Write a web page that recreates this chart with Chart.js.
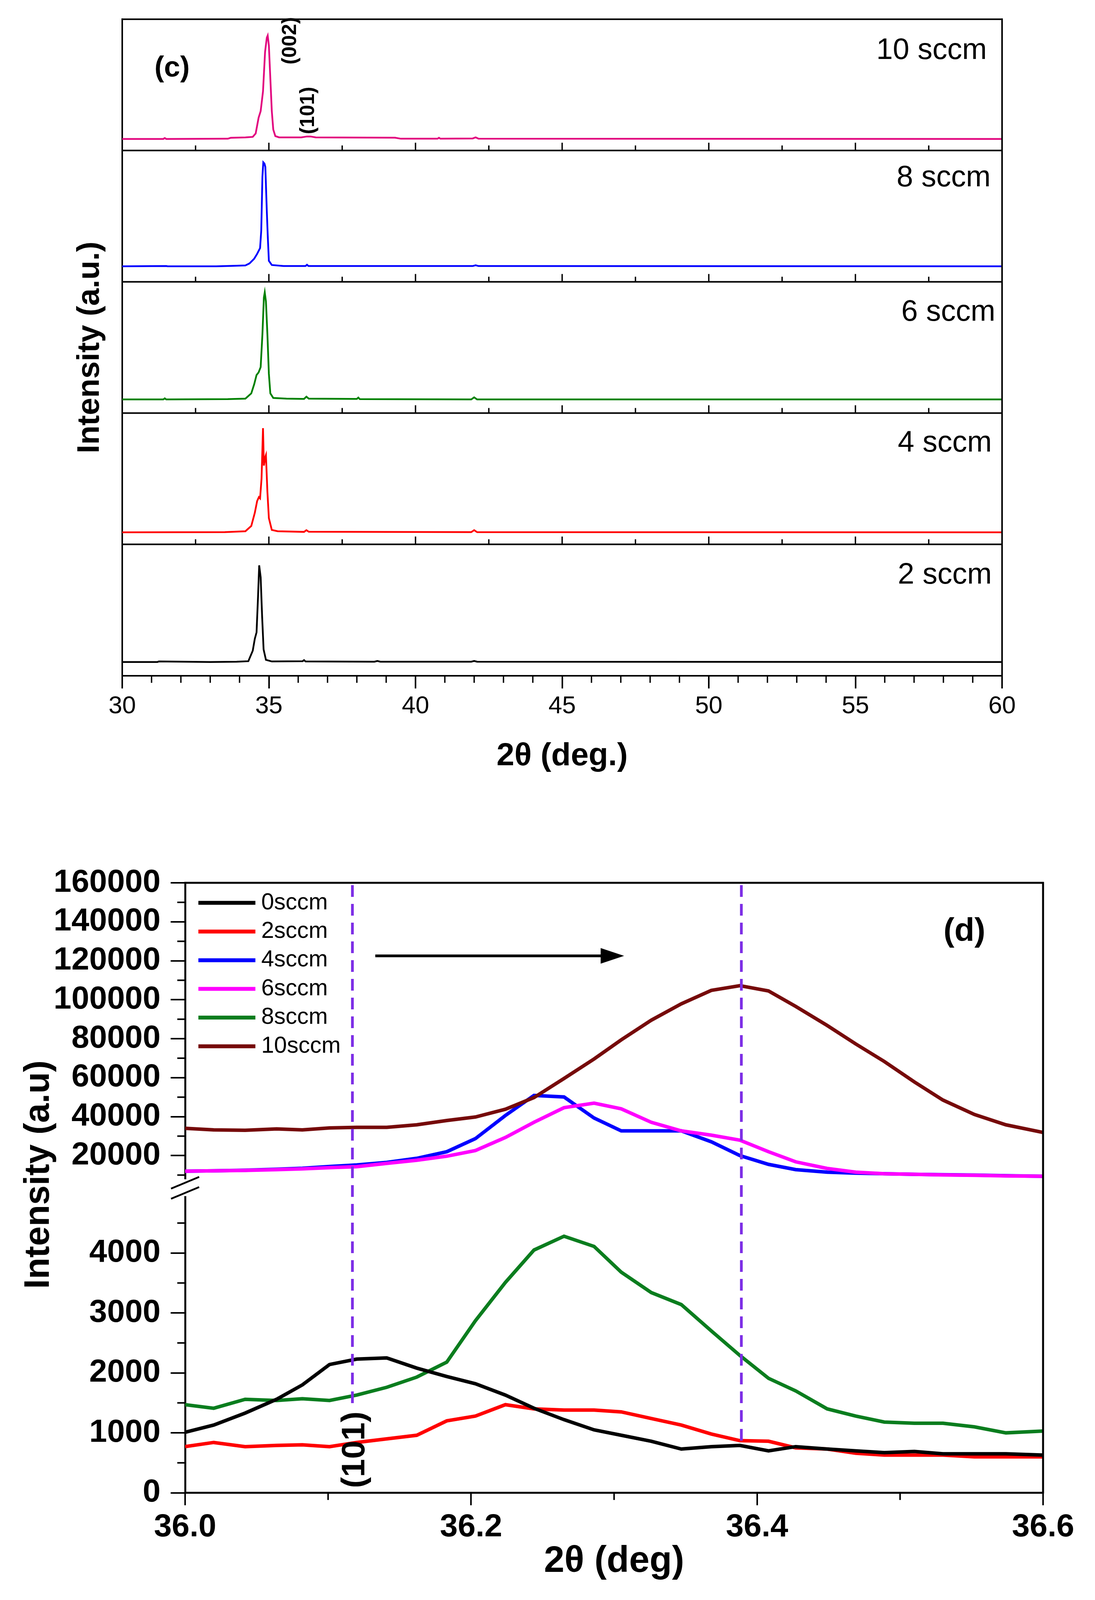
<!DOCTYPE html>
<html><head><meta charset="utf-8">
<script src="https://cdn.jsdelivr.net/npm/chart.js@4.4.1/dist/chart.umd.min.js"></script>
<style>
html,body{margin:0;padding:0;background:#fff;overflow:hidden;}
#wrap{position:relative;width:2804px;background:#fff;overflow:hidden;}
canvas{position:absolute;left:0;}
</style></head><body>
<div id="wrap">
<canvas id="cC"></canvas>
<canvas id="cD"></canvas>
</div>
<script>
// ================= Panel (c) data =================
const cLabels = ['10 sccm', '8 sccm', '6 sccm', '4 sccm', '2 sccm'];
const cColors = ['#e2087f', '#0000ff', '#008000', '#ff0000', '#000000'];
const cXTicks = [30, 35, 40, 45, 50, 55, 60];
const cXLabels = ['30', '35', '40', '45', '50', '55', '60'];
const cMinorTicks = [31,32,33,34,36,37,38,39,41,42,43,44,46,47,48,49,51,52,53,54,56,57,58,59];
const cInnerTicks = [32.5,35,37.5,40,42.5,45,47.5,50,52.5,55,57.5];

const c10x = [30, 31.4, 31.45, 31.5, 33.6, 33.7, 34.2, 34.45, 34.55, 34.65, 34.72, 34.8, 34.87, 34.93, 34.96, 35.0, 35.05, 35.1, 35.15, 35.22, 35.35, 36.1, 36.3, 36.42, 36.6, 39.3, 39.5, 40.75, 40.8, 40.85, 41.95, 42.05, 42.15, 60];
const c10y = [0.088, 0.088, 0.095, 0.088, 0.09, 0.097, 0.1, 0.104, 0.13, 0.25, 0.30, 0.45, 0.75, 0.86, 0.876, 0.80, 0.55, 0.30, 0.16, 0.11, 0.1, 0.1, 0.107, 0.107, 0.1, 0.098, 0.09, 0.09, 0.097, 0.09, 0.092, 0.1, 0.09, 0.088];

const c8x = [30, 31.5, 31.55, 33.2, 33.8, 34.2, 34.34, 34.5, 34.6, 34.7, 34.74, 34.78, 34.81, 34.85, 34.88, 34.93, 34.96, 35.0, 35.1, 35.5, 36.25, 36.3, 36.35, 40.8, 41.95, 42.05, 42.15, 60];
const c8y = [0.118, 0.12, 0.118, 0.118, 0.122, 0.125, 0.14, 0.176, 0.213, 0.257, 0.39, 0.80, 0.91, 0.90, 0.875, 0.537, 0.36, 0.16, 0.128, 0.12, 0.12, 0.13, 0.12, 0.12, 0.12, 0.126, 0.12, 0.118];

const c6x = [30, 31.4, 31.45, 31.5, 33.6, 34.2, 34.4, 34.5, 34.58, 34.65, 34.72, 34.78, 34.83, 34.86, 34.9, 34.95, 35.0, 35.05, 35.15, 35.6, 36.2, 36.28, 36.36, 38.0, 38.05, 38.1, 41.9, 42.0, 42.1, 60];
const c6y = [0.104, 0.104, 0.112, 0.104, 0.106, 0.11, 0.15, 0.22, 0.29, 0.31, 0.35, 0.6, 0.88, 0.92, 0.85, 0.6, 0.3, 0.15, 0.115, 0.11, 0.108, 0.125, 0.11, 0.108, 0.118, 0.106, 0.104, 0.12, 0.104, 0.104];

const c4x = [30, 33.5, 34.2, 34.4, 34.52, 34.6, 34.66, 34.7, 34.75, 34.8, 34.83, 34.87, 34.9, 34.95, 35.0, 35.1, 35.3, 36.2, 36.28, 36.36, 41.9, 42.0, 42.1, 60];
const c4y = [0.092, 0.093, 0.1, 0.14, 0.24, 0.33, 0.36, 0.35, 0.5, 0.885, 0.6, 0.66, 0.68, 0.4, 0.2, 0.11, 0.1, 0.095, 0.108, 0.096, 0.093, 0.108, 0.093, 0.092];

const c2x = [30, 31.2, 31.25, 33.0, 33.9, 34.3, 34.45, 34.52, 34.58, 34.63, 34.67, 34.72, 34.77, 34.82, 34.9, 35.1, 36.15, 36.2, 36.25, 38.6, 38.7, 38.8, 41.9, 42.0, 42.1, 60];
const c2y = [0.104, 0.104, 0.108, 0.104, 0.106, 0.11, 0.19, 0.28, 0.33, 0.6, 0.84, 0.75, 0.45, 0.2, 0.12, 0.108, 0.11, 0.118, 0.108, 0.106, 0.112, 0.106, 0.106, 0.112, 0.106, 0.104];

// ================= Panel (d) data =================
const dLabels = ['0sccm', '2sccm', '4sccm', '6sccm', '8sccm', '10sccm'];
const dColors = ['#000000', '#ff0000', '#0000ff', '#ff00ff', '#0a7d1e', '#760a0a'];
const dTheta = [36.000, 36.020, 36.042, 36.064, 36.082, 36.101, 36.120, 36.141, 36.162, 36.183, 36.203, 36.224, 36.244, 36.265, 36.286, 36.305, 36.326, 36.347, 36.368, 36.388, 36.408, 36.427, 36.449, 36.469, 36.489, 36.510, 36.530, 36.552, 36.574, 36.600];
const d0 = [1010, 1130, 1330, 1560, 1800, 2140, 2230, 2250, 2080, 1940, 1820, 1630, 1410, 1220, 1050, 960, 860, 730, 770, 790, 700, 770, 730, 700, 670, 690, 650, 650, 650, 630];
const d2 = [770, 840, 770, 790, 800, 770, 840, 900, 960, 1200, 1280, 1470, 1400, 1380, 1380, 1350, 1240, 1130, 980, 870, 860, 750, 730, 660, 630, 630, 630, 600, 600, 600];
const d4 = [12000, 12200, 12500, 13000, 13500, 14400, 15200, 16500, 18600, 22000, 28700, 40600, 50900, 50100, 39300, 32700, 32700, 32700, 27100, 20000, 15500, 12800, 11500, 11000, 10700, 10400, 10200, 10000, 9700, 9400];
const d6 = [12000, 12200, 12400, 12800, 13200, 13800, 14300, 16000, 17600, 19700, 22600, 29300, 37100, 44600, 46900, 44000, 37100, 32700, 30500, 27900, 22000, 16800, 13400, 11500, 10700, 10400, 10100, 9900, 9600, 9400];
const d8 = [1470, 1410, 1560, 1540, 1570, 1540, 1630, 1760, 1930, 2180, 2870, 3510, 4050, 4280, 4110, 3680, 3340, 3140, 2700, 2290, 1910, 1700, 1400, 1280, 1180, 1160, 1160, 1100, 1000, 1030];
const d10 = [34000, 33200, 33000, 33700, 33200, 34200, 34500, 34500, 35800, 38000, 39800, 43800, 49800, 59600, 69600, 79400, 89500, 97900, 104800, 107200, 104500, 96600, 86800, 77300, 68300, 57800, 48500, 41100, 35800, 31900];
const dAxisOf = ['yLo', 'yLo', 'yHi', 'yHi', 'yLo', 'yHi'];
const dXTicks = [36.0, 36.2, 36.4, 36.6];
const dXLabels = ['36.0', '36.2', '36.4', '36.6'];
const dXMinor = [36.1, 36.3, 36.5];
const dHiTicks = [20000, 40000, 60000, 80000, 100000, 120000, 140000, 160000];
const dHiLabels = ['20000', '40000', '60000', '80000', '100000', '120000', '140000', '160000'];
const dHiMinor = [10000, 30000, 50000, 70000, 90000, 110000, 130000, 150000];
const dLoTicks = [0, 1000, 2000, 3000, 4000];
const dLoLabels = ['0', '1000', '2000', '3000', '4000'];
const dLoMinor = [500, 1500, 2500, 3500, 4500];
const dRefX = [36.117, 36.389];     // (101) peak reference lines
const dRefEnd = [1420, 850];        // lower end of each reference line (lower-axis value)

// ================= page fit (figure designed on a 2804 x 4239 sheet) =================
const SHEET_H = 4239;
const VH = window.innerHeight > 100 ? window.innerHeight : SHEET_H;
const K = Math.min(1, VH / SHEET_H);
const Y = v => v * K;
const wrap = document.getElementById('wrap');
wrap.style.height = Math.round(SHEET_H * K) + 'px';
const cvC = document.getElementById('cC'), cvD = document.getElementById('cD');
const HC = Math.round(Y(2150));
const TOPD = Math.round(Y(2200));
const HD = Math.round(Y(SHEET_H)) - TOPD;
cvC.width = 2804; cvC.height = HC; cvC.style.top = '0px';
cvD.width = 2804; cvD.height = HD; cvD.style.top = TOPD + 'px';

// ================= helpers =================
function seg(ctx, x1, y1, x2, y2, w, color, dash) {
  ctx.save(); ctx.beginPath(); ctx.lineWidth = w; ctx.strokeStyle = color || '#000';
  ctx.lineCap = 'butt'; if (dash) ctx.setLineDash(dash);
  ctx.moveTo(x1, y1); ctx.lineTo(x2, y2); ctx.stroke(); ctx.restore();
}
function txt(ctx, s, x, y, font, align, rot) {
  ctx.save(); ctx.translate(x, y); if (rot) ctx.rotate(rot);
  ctx.font = font; ctx.fillStyle = '#000'; ctx.textAlign = align || 'center'; ctx.textBaseline = 'middle';
  ctx.fillText(s, 0, 0); ctx.restore();
}
const LIB = '"Liberation Sans", Arial, sans-serif';

// ================= Panel (c) chart =================
const cIds = ['y10', 'y8', 'y6', 'y4', 'y2'];
const cSeries = [[c10x, c10y], [c8x, c8y], [c6x, c6y], [c4x, c4y], [c2x, c2y]];
const C_TOP = 51, C_BOTTOM = 1790;
const cTickFontSize = 63, cTitleSize = 82;

const cDecor = {
  id: 'cDecor',
  afterDraw(chart) {
    const ctx = chart.ctx, a = chart.chartArea, x = chart.scales.x;
    seg(ctx, a.left - 2, a.top, a.right + 2, a.top, 4);
    seg(ctx, a.right, a.top - 2, a.right, a.bottom + 2, 4);
    ['y10', 'y8', 'y6', 'y4'].forEach(id => {
      const yb = chart.scales[id].bottom;
      seg(ctx, a.left, yb, a.right, yb, 4);
      cInnerTicks.forEach(v => {
        const px = x.getPixelForValue(v);
        seg(ctx, px, yb, px, yb - (v % 5 === 0 ? 20 : 13), 3.5);
      });
    });
    cMinorTicks.forEach(v => {
      const px = x.getPixelForValue(v);
      seg(ctx, px, a.bottom, px, a.bottom + Y(19), 3.5);
    });
    const labY = [0.76, 0.79, 0.767, 0.77, 0.764];
    const labX = [59.48, 59.61, 59.77, 59.65, 59.65];
    cIds.forEach((id, i) => {
      txt(ctx, cLabels[i], x.getPixelForValue(labX[i]), chart.scales[id].getPixelForValue(labY[i]), '76px ' + LIB, 'right');
    });
    const t = chart.scales.y10;
    txt(ctx, '(c)', x.getPixelForValue(31.7), t.getPixelForValue(0.625), 'bold 74px ' + LIB, 'center');
    txt(ctx, '(002)', x.getPixelForValue(35.73), t.getPixelForValue(0.836), 'bold 52px ' + LIB, 'center', -Math.PI / 2);
    txt(ctx, '(101)', x.getPixelForValue(36.35), t.getPixelForValue(0.305), 'bold 52px ' + LIB, 'center', -Math.PI / 2);
  }
};

const cXTickLen = Y(34);
const scalesC = {
  x: {
    type: 'linear', position: 'bottom', min: 30, max: 60,
    afterBuildTicks: s => { s.ticks = cXTicks.map(v => ({ value: v })); },
    afterFit: s => { s.height = HC - Y(C_BOTTOM); },
    grid: { drawOnChartArea: false, tickLength: cXTickLen, lineWidth: 4, color: '#000' },
    border: { display: true, color: '#000', width: 4 },
    ticks: { font: { family: LIB, size: cTickFontSize }, color: '#000', maxRotation: 0, autoSkip: false,
             padding: Math.max(0, Y(1872) - Y(C_BOTTOM) - cXTickLen - cTickFontSize * 0.6),
             callback: (v, i) => cXLabels[i] },
    title: { display: true, text: '2θ (deg.)', color: '#000', font: { family: LIB, size: cTitleSize, weight: 'bold' },
             padding: { top: 0, bottom: Math.max(0, HC - Y(2004) - cTitleSize * 0.6) } }
  }
};
['y2', 'y4', 'y6', 'y8', 'y10'].forEach(id => {
  scalesC[id] = {
    type: 'linear', position: 'left', stack: 'c', stackWeight: 1, min: 0, max: 1,
    afterFit: s => { s.width = 313; },
    grid: { display: false },
    border: { display: true, color: '#000', width: 4 },
    ticks: { display: false },
    title: id === 'y6'
      ? { display: true, text: 'Intensity (a.u.)', color: '#000', font: { family: LIB, size: 80, weight: 'bold' }, padding: { top: 183, bottom: 0 } }
      : { display: false }
  };
});

new Chart(cvC, {
  type: 'line',
  data: {
    datasets: cSeries.map((s, i) => ({
      label: cLabels[i],
      data: s[0].map((xv, j) => ({ x: xv, y: s[1][j] })),
      borderColor: cColors[i], backgroundColor: cColors[i],
      borderWidth: 4.5, pointRadius: 0, tension: 0, fill: false, yAxisID: cIds[i]
    }))
  },
  options: {
    responsive: false, animation: false, devicePixelRatio: 1,
    layout: { padding: { left: 0, top: Y(C_TOP), right: 238, bottom: 0 } },
    plugins: { legend: { display: false }, tooltip: { enabled: false } },
    scales: scalesC
  },
  plugins: [cDecor]
});

// ================= Panel (d) chart =================
const dSeries = [d0, d2, d4, d6, d8, d10];
const D_TOP = 2339, D_BOTTOM = 3955;
const dTickFontSize = 82, dTitleSize = 94;

const dDecor = {
  id: 'dDecor',
  afterDatasetsDraw(chart) {
    const ctx = chart.ctx, a = chart.chartArea, x = chart.scales.x, lo = chart.scales.yLo;
    dRefX.forEach((v, i) => {
      const px = x.getPixelForValue(v);
      seg(ctx, px, a.top + 6, px, lo.getPixelForValue(dRefEnd[i]), 7, '#7d2ee6', [30, 18]);
    });
  },
  afterDraw(chart) {
    const ctx = chart.ctx, a = chart.chartArea, x = chart.scales.x, hi = chart.scales.yHi, lo = chart.scales.yLo;
    // frame (top, right)
    seg(ctx, a.left - 2, a.top, a.right + 2, a.top, 5);
    seg(ctx, a.right, a.top - 2, a.right, a.bottom + 2, 5);
    // minor ticks
    dHiMinor.forEach(v => { const py = hi.getPixelForValue(v); seg(ctx, a.left, py, a.left - 20, py, 4); });
    dLoMinor.forEach(v => { const py = lo.getPixelForValue(v); seg(ctx, a.left, py, a.left - 20, py, 4); });
    dXMinor.forEach(v => { const px = x.getPixelForValue(v); seg(ctx, px, a.bottom, px, a.bottom + Y(19), 4); });
    // axis break marks
    const gc = (hi.bottom + lo.top) / 2;
    [-13, 13].forEach(o => seg(ctx, a.left - 36, gc + o + 15, a.left + 36, gc + o - 15, 4.5));
    // y-axis title (spans both segments)
    txt(ctx, 'Intensity (a.u)', 100, Y(3112) - TOPD, 'bold 90px ' + LIB, 'center', -Math.PI / 2);
    // arrow
    const ay = hi.getPixelForValue(122500), ax1 = x.getPixelForValue(36.133), ax2 = x.getPixelForValue(36.307);
    seg(ctx, ax1, ay, ax2 - 40, ay, 7);
    ctx.save(); ctx.beginPath(); ctx.fillStyle = '#000';
    ctx.moveTo(ax2, ay); ctx.lineTo(ax2 - 60, ay - 20); ctx.lineTo(ax2 - 60, ay + 20); ctx.closePath(); ctx.fill(); ctx.restore();
    // texts
    txt(ctx, '(d)', x.getPixelForValue(36.545), hi.getPixelForValue(134700), 'bold 84px ' + LIB, 'center');
    txt(ctx, '(101)', x.getPixelForValue(36.119), lo.getPixelForValue(718), 'bold 84px ' + LIB, 'center', -Math.PI / 2);
    // legend
    chart.data.datasets.forEach((ds, i) => {
      const yy = a.top + Y(53 + 76 * i);
      seg(ctx, a.left + 34, yy, a.left + 180, yy, 10, ds.borderColor);
      txt(ctx, ds.label, a.left + 195, yy, '59px ' + LIB, 'left');
    });
  }
};

const yCommonD = {
  type: 'linear', position: 'left', stack: 'd',
  afterFit: s => { s.width = 474; },
  grid: { drawOnChartArea: false, tickLength: 37, lineWidth: 4, color: '#000' },
  border: { display: true, color: '#000', width: 5 },
  title: { display: false }
};
const dTickFont = { family: LIB, size: dTickFontSize, weight: 'bold' };
const dXTickLen = Y(33);

new Chart(cvD, {
  type: 'line',
  data: {
    datasets: dSeries.map((s, i) => ({
      label: dLabels[i],
      data: dTheta.map((xv, j) => ({ x: xv, y: s[j] })),
      borderColor: dColors[i], backgroundColor: dColors[i],
      borderWidth: 9, pointRadius: 0, tension: 0, fill: false,
      yAxisID: dAxisOf[i], order: i === 2 ? 2 : 1
    }))
  },
  options: {
    responsive: false, animation: false, devicePixelRatio: 1,
    layout: { padding: { left: 0, top: Y(D_TOP) - TOPD, right: 133, bottom: 0 } },
    plugins: { legend: { display: false }, tooltip: { enabled: false } },
    scales: {
      x: {
        type: 'linear', position: 'bottom', min: 36, max: 36.6,
        afterBuildTicks: s => { s.ticks = dXTicks.map(v => ({ value: v })); },
        afterFit: s => { s.height = HD - (Y(D_BOTTOM) - TOPD); },
        grid: { drawOnChartArea: false, tickLength: dXTickLen, lineWidth: 4, color: '#000' },
        border: { display: true, color: '#000', width: 5 },
        ticks: { font: dTickFont, color: '#000', maxRotation: 0, autoSkip: false,
                 padding: Math.max(0, Y(4047) - Y(D_BOTTOM) - dXTickLen - dTickFontSize * 0.6),
                 callback: (v, i) => dXLabels[i] },
        title: { display: true, text: '2θ (deg)', color: '#000', font: { family: LIB, size: dTitleSize, weight: 'bold' },
                 padding: { top: 0, bottom: Math.max(0, HD - (Y(4138) - TOPD) - dTitleSize * 0.6) } }
      },
      yLo: Object.assign({}, yCommonD, {
        stackWeight: 783, min: 0, max: 4930,
        afterBuildTicks: s => { s.ticks = dLoTicks.map(v => ({ value: v })); },
        ticks: { font: dTickFont, color: '#000', padding: 26, autoSkip: false, callback: (v, i) => dLoLabels[i] }
      }),
      yGap: {
        type: 'linear', position: 'left', stack: 'd', stackWeight: 50, min: 0, max: 1,
        afterFit: s => { s.width = 474; },
        grid: { display: false }, border: { display: false }, ticks: { display: false },
        title: { display: false }
      },
      yHi: Object.assign({}, yCommonD, {
        stackWeight: 783, min: 8300, max: 160000,
        afterBuildTicks: s => { s.ticks = dHiTicks.map(v => ({ value: v })); },
        ticks: { font: dTickFont, color: '#000', padding: 26, autoSkip: false, callback: (v, i) => dHiLabels[i] }
      })
    }
  },
  plugins: [dDecor]
});
</script>
</body></html>
